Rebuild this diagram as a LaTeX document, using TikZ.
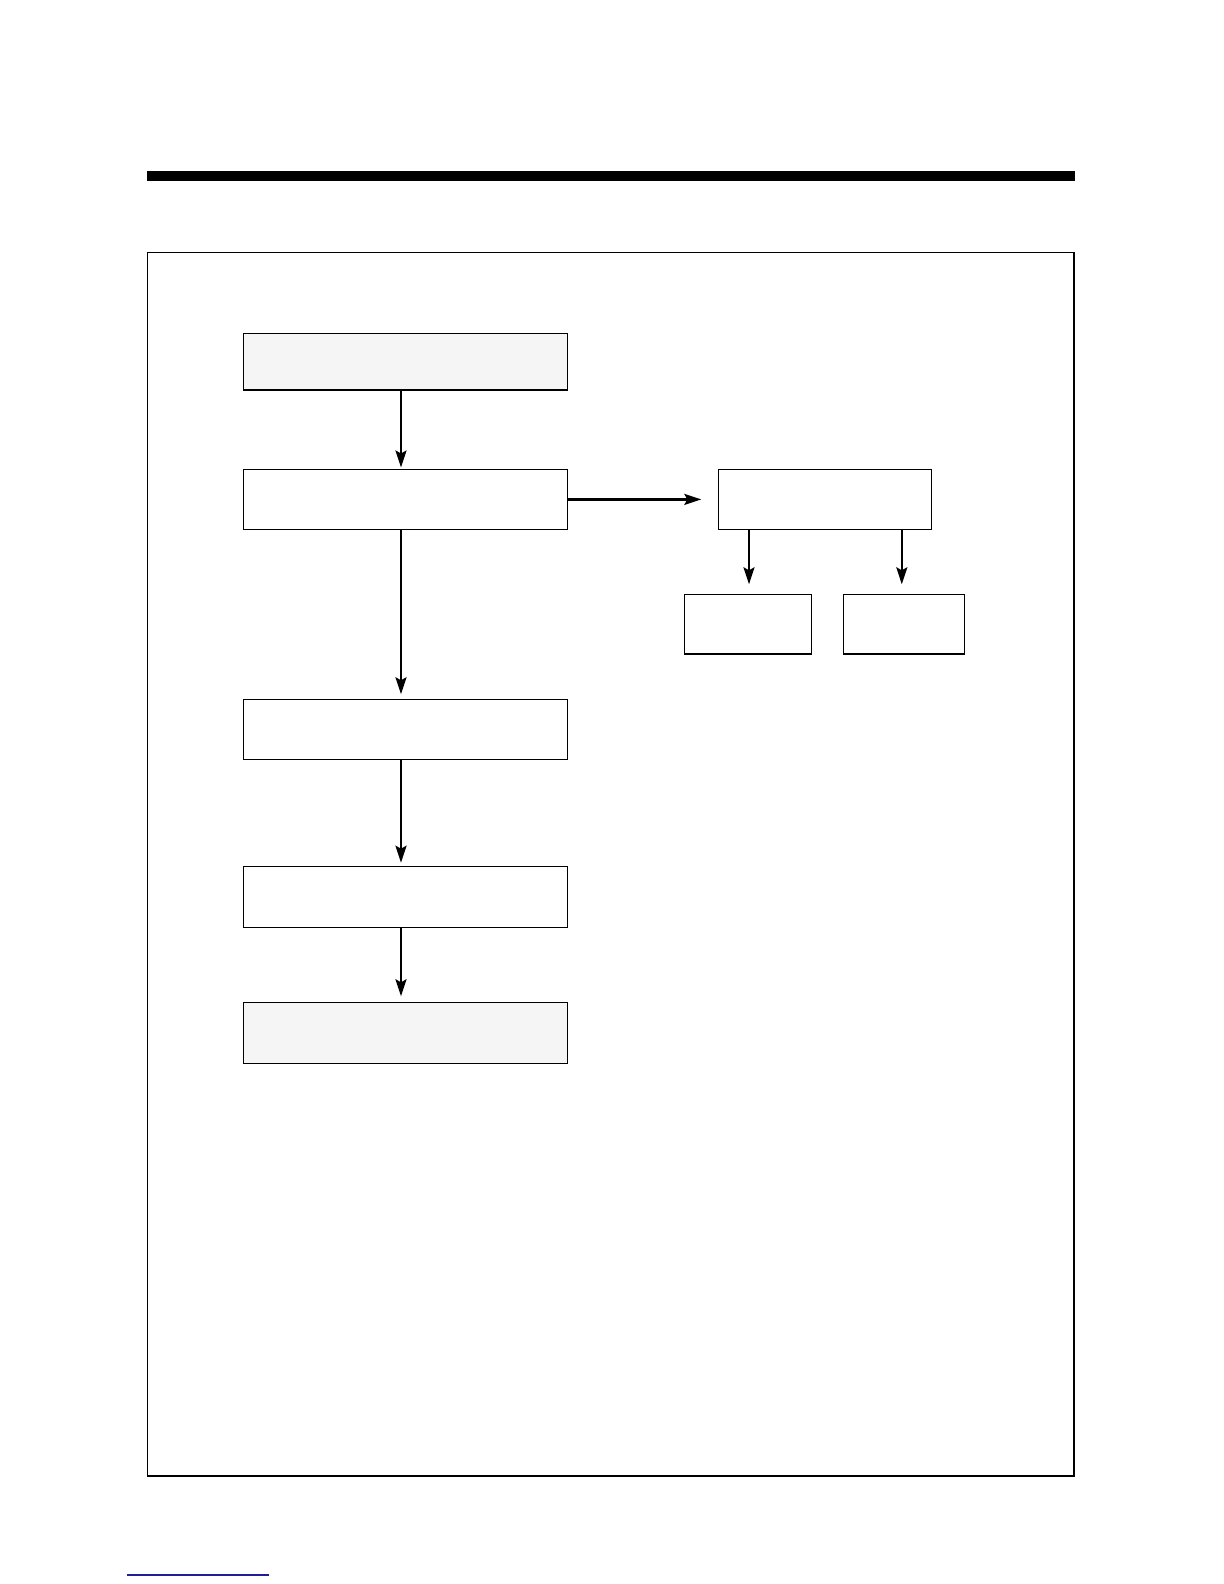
\documentclass[tikz,border=0pt]{standalone}
\usetikzlibrary{arrows.meta}
\definecolor{boxgray}{RGB}{245,245,245}
\definecolor{linkblue}{RGB}{30,30,150}
\begin{document}
\begin{tikzpicture}[x=0.5pt,y=-0.5pt,
  box/.style={draw=black, line width=0.75pt, inner sep=0pt, outer sep=0pt},
  grey/.style={fill=boxgray},
  arr/.style={line width=1.1pt, -{Stealth[length=8.5pt,width=5.5pt,inset=1.5pt]}}]
\useasboundingbox (0,0) rectangle (1224,1584);
% header bar and frame
\fill[black] (146.7,171) rectangle (1074.7,181);
\draw[line width=0.75pt] (147.3,252.3) rectangle (1074,1476);
\draw[linkblue, line width=1pt] (127,1575) -- (269,1575);
% boxes
\node[box,grey,minimum width=162pt,minimum height=28.15pt] (b1) at (405.5,361.85) {};
\node[box,minimum width=162pt,minimum height=29.9pt] (b2) at (405.5,499.4) {};
\node[box,minimum width=106.7pt,minimum height=29.9pt] (b3) at (825,499.4) {};
\node[box,minimum width=63.7pt,minimum height=29.85pt] (b4) at (748,624.15) {};
\node[box,minimum width=60.5pt,minimum height=29.85pt] (b5) at (903.8,624.15) {};
\node[box,minimum width=162pt,minimum height=30pt] (b6) at (405.5,729.3) {};
\node[box,minimum width=162pt,minimum height=30.3pt] (b7) at (405.5,897) {};
\node[box,grey,minimum width=162pt,minimum height=30.5pt] (b8) at (405.5,1032.8) {};
% connectors
\draw[arr, shorten >=1pt] ([xshift=-2.25pt]b1.south) -- ([xshift=-2.25pt]b2.north);
\draw[arr, shorten >=2.5pt] ([xshift=-2.25pt]b2.south) -- ([xshift=-2.25pt]b6.north);
\draw[arr, shorten >=2pt] ([xshift=-2.25pt]b6.south) -- ([xshift=-2.25pt]b7.north);
\draw[arr, shorten >=3pt] ([xshift=-2.25pt]b7.south) -- ([xshift=-2.25pt]b8.north);
\draw[arr, shorten >=8.5pt] (b2.east) -- (b3.west);
\draw[arr, shorten >=5pt] ([xshift=0.5pt]b4.north |- b3.south) -- ([xshift=0.5pt]b4.north);
\draw[arr, shorten >=5pt] ([xshift=-1pt]b5.north |- b3.south) -- ([xshift=-1pt]b5.north);
\end{tikzpicture}
\end{document}
